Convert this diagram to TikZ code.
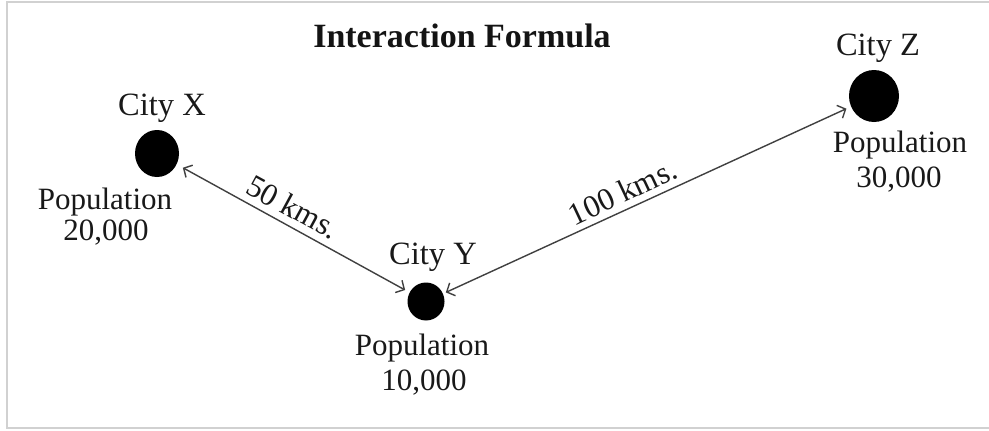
\documentclass[tikz,border=0pt]{standalone}
\usepackage{fontspec}
\setmainfont{Liberation Serif}
\usetikzlibrary{arrows.meta,shapes.geometric}
\tikzset{
  dot/.style={ellipse, fill=black, draw=none, inner sep=0pt},
  lbl/.style={anchor=base, inner sep=0pt, text=black!90, font=\fontsize{31}{31}\selectfont},
  citylbl/.style={anchor=base, inner sep=0pt, text=black!90, font=\fontsize{32.5}{32.5}\selectfont},
  dist/.style={inner sep=0pt, text=black!90, font=\fontsize{31.5}{31.5}\selectfont},
  conn/.style={draw=black!75, line width=1.4pt, {Straight Barb[length=6.5pt,width=14pt]}-{Straight Barb[length=6.5pt,width=14pt]}},
  frame/.style={draw=black!18, line width=2pt}
}
\begin{document}
\begin{tikzpicture}[x=1pt,y=-1pt]
\useasboundingbox (0,0) rectangle (989,431);
\fill[white] (0,0) rectangle (989,431);
\draw[frame] (989,2) -- (7,2) -- (7,428) -- (989,428);

\node[anchor=base, inner sep=0pt, text=black!92, font=\fontsize{34}{34}\selectfont\bfseries] (title) at (462,47) {Interaction Formula};

% dots
\node[dot, minimum width=44pt, minimum height=47pt] (X) at (157,153.5) {};
\node[dot, minimum width=37pt, minimum height=38pt] (Y) at (426,301.5) {};
\node[dot, minimum width=50pt, minimum height=52pt] (Z) at (874,96) {};

% city labels
\node[citylbl] (cx) at (162,115) {City X};
\node[citylbl] (cy) at (433,264) {City Y};
\node[citylbl] (cz) at (878,55) {City Z};

% population labels
\node[lbl] (px) at (105,209) {Population};
\node[lbl] (nx) at (106,240) {20,000};
\node[lbl] (py) at (422,355) {Population};
\node[lbl] (ny) at (424,390) {10,000};
\node[lbl] (pz) at (900,152) {Population};
\node[lbl] (nz) at (899,187) {30,000};

% connectors
\draw[conn, shorten <=7pt, shorten >=5pt] (X) -- (Y);
\draw[conn, shorten <=3pt, shorten >=5pt] (Y) -- (Z);

% distance labels
\node[dist, rotate=-28.5] (d1) at (293,207) {50 kms.};
\node[dist, rotate=25.2] (d2) at (622.5,192) {100 kms.};
\end{tikzpicture}
\end{document}
